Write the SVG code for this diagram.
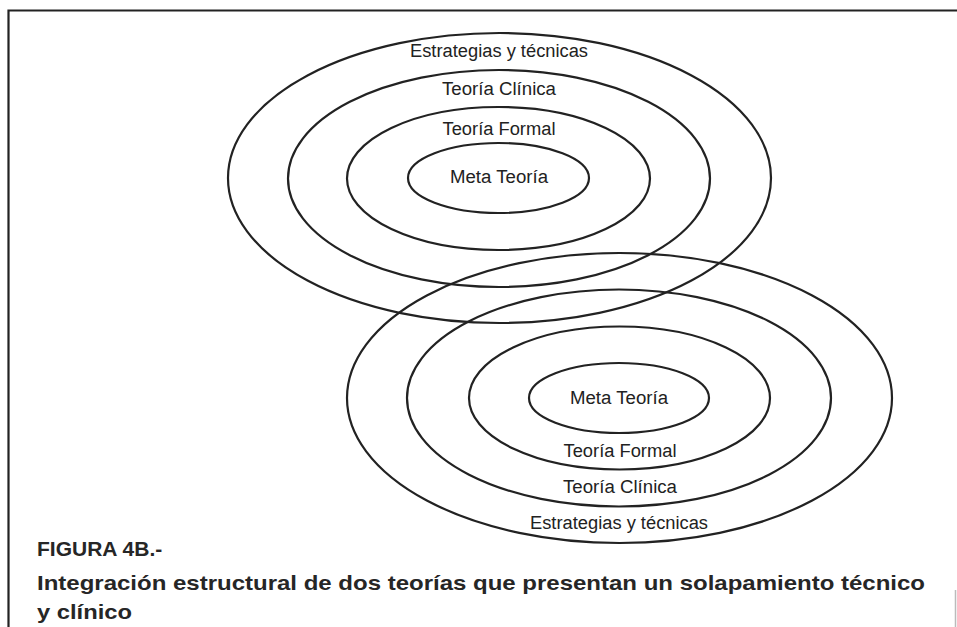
<svg xmlns="http://www.w3.org/2000/svg" width="957" height="627" viewBox="0 0 957 627">
<style>
.ring{fill:none;stroke:#222;stroke-width:2.2}
.lbl{font-family:"Liberation Sans",Arial,Helvetica,sans-serif;font-size:18px;fill:#222;text-anchor:middle}
.cap{font-family:"Liberation Sans",Arial,Helvetica,sans-serif;font-size:21px;font-weight:bold;fill:#262626}
.frame{fill:none;stroke:#222;stroke-width:2.2}
</style>
<rect width="957" height="627" fill="#fff"/>
<path class="frame" d="M957 10.5 H8.5 V627"/>
<line x1="955.5" y1="590" x2="955.5" y2="627" stroke="#bbb" stroke-width="1.5"/>
<g id="top-set">
  <g id="top-estrategias"><ellipse class="ring" cx="499.5" cy="178" rx="271.5" ry="145"/><text class="lbl" x="499" y="57" textLength="178" lengthAdjust="spacingAndGlyphs">Estrategias y técnicas</text></g>
  <g id="top-clinica"><ellipse class="ring" cx="499" cy="178.5" rx="211" ry="108.5"/><text class="lbl" x="499" y="95" textLength="114" lengthAdjust="spacingAndGlyphs">Teoría Clínica</text></g>
  <g id="top-formal"><ellipse class="ring" cx="498.5" cy="178.5" rx="151.5" ry="71.5"/><text class="lbl" x="499" y="135" textLength="113" lengthAdjust="spacingAndGlyphs">Teoría Formal</text></g>
  <g id="top-meta"><ellipse class="ring" cx="498.5" cy="178" rx="90.5" ry="35"/><text class="lbl" x="499" y="183" textLength="98" lengthAdjust="spacingAndGlyphs">Meta Teoría</text></g>
</g>
<g id="bottom-set">
  <g id="bot-estrategias"><ellipse class="ring" cx="619.5" cy="398" rx="272.5" ry="145"/><text class="lbl" x="619" y="529" textLength="178" lengthAdjust="spacingAndGlyphs">Estrategias y técnicas</text></g>
  <g id="bot-clinica"><ellipse class="ring" cx="619" cy="398" rx="212" ry="108.5"/><text class="lbl" x="620" y="493" textLength="114" lengthAdjust="spacingAndGlyphs">Teoría Clínica</text></g>
  <g id="bot-formal"><ellipse class="ring" cx="619.5" cy="398" rx="150.5" ry="71.5"/><text class="lbl" x="620" y="457" textLength="113" lengthAdjust="spacingAndGlyphs">Teoría Formal</text></g>
  <g id="bot-meta"><ellipse class="ring" cx="619" cy="398" rx="90" ry="35"/><text class="lbl" x="619" y="404" textLength="98" lengthAdjust="spacingAndGlyphs">Meta Teoría</text></g>
</g>
<g id="connectors"></g>
<g id="caption">
  <text class="cap" x="37" y="556">FIGURA 4B.-</text>
  <text class="cap" x="37" y="590" textLength="888" lengthAdjust="spacingAndGlyphs">Integración estructural de dos teorías que presentan un solapamiento técnico</text>
  <text class="cap" x="37" y="619" textLength="95" lengthAdjust="spacingAndGlyphs">y clínico</text>
</g>
</svg>
